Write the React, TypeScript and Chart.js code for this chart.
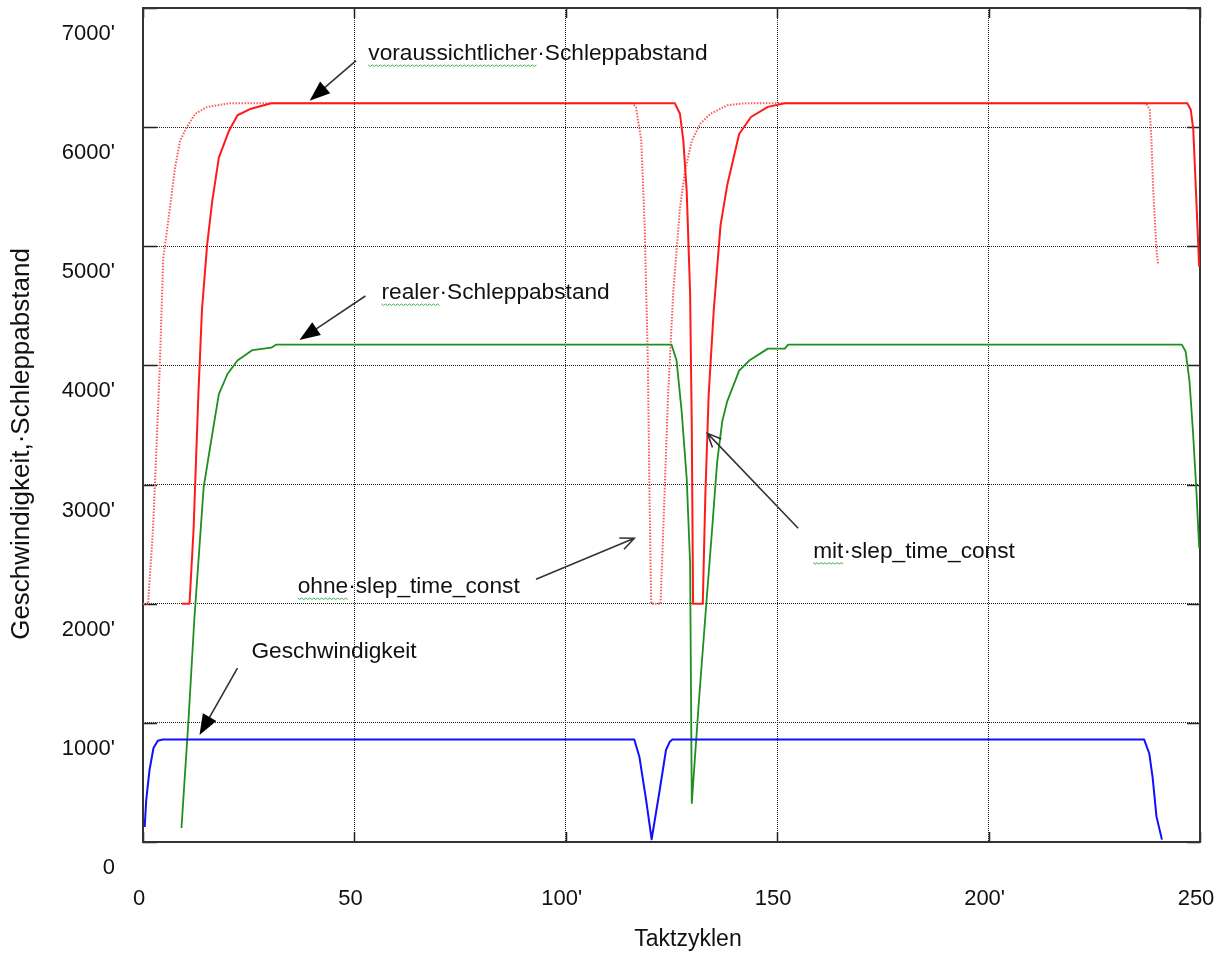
import React, { useEffect, useRef } from "react";
import { Chart, registerables } from "chart.js";

Chart.register(...registerables);

const FONT = "'Liberation Sans', Arial, Helvetica, sans-serif";

// Geschwindigkeit (blue)
const speedX = [0.4, 0.76, 1.54, 2.48, 3.5, 4.68, 116.2, 117.4, 119.0, 120.3, 122.1, 123.7, 124.6, 125.2, 236.8, 238.0, 238.8, 239.7, 241.0];
const speedY = [126, 352, 604, 789, 850, 860, 860, 716, 352, 23, 411, 772, 842, 860, 860, 743, 540, 215, 20];

// voraussichtlicher Schleppabstand, mit slep_time_const (red solid)
const mitX = [9.17, 11.0, 11.96, 13.1, 13.95, 15.15, 16.36, 17.94, 20.35, 22.34, 25.55, 30.33, 125.8, 127.0, 127.8, 128.6, 129.4, 129.8, 130.1, 132.4, 133.0, 133.8, 135.0, 136.6, 138.2, 141.0, 143.8, 147.8, 151.8, 247.0, 247.8, 248.4, 249.0, 249.8];
const mitY = [2000, 2000, 2623, 3760, 4467, 5006, 5375, 5744, 5970, 6100, 6155, 6200, 6200, 6112, 5886, 5460, 4609, 3475, 2000, 2000, 2906, 3760, 4467, 5178, 5517, 5942, 6085, 6170, 6200, 6200, 6149, 5986, 5498, 4828];

// voraussichtlicher Schleppabstand, ohne slep_time_const (red dotted)
const ohneX = [0, 1.2, 2.36, 2.77, 3.97, 4.78, 6.36, 7.57, 8.77, 10.35, 12.36, 15.15, 20.35, 115.8, 116.6, 117.85, 118.65, 119.4, 119.8, 120.2, 122.4, 123.05, 124.2, 125.4, 127.0, 128.2, 129.8, 131.8, 134.2, 138.2, 142.2, 237.2, 238.1, 238.5, 238.9, 239.7, 240.1];
const ohneY = [2000, 2000, 2623, 2963, 3987, 4893, 5321, 5657, 5886, 6000, 6112, 6169, 6200, 6200, 6168, 5886, 5178, 4045, 2906, 2000, 2000, 2623, 3760, 4608, 5321, 5632, 5886, 6028, 6112, 6184, 6200, 6200, 6149, 5905, 5498, 4970, 4849];

// realer Schleppabstand (green)
const realX = [9.1, 10.76, 12.13, 14.35, 15.96, 17.94, 19.98, 22.34, 25.9, 30.33, 31.56, 125.0, 126.2, 127.4, 128.6, 129.4, 129.8, 131.5, 133.3, 134.6, 135.8, 137.0, 138.2, 141.0, 143.4, 147.8, 151.8, 152.6, 245.7, 246.6, 247.5, 248.3, 249.1, 249.8];
const realY = [118, 1024, 1863, 2979, 3332, 3760, 3928, 4041, 4129, 4149, 4175, 4175, 4041, 3617, 3048, 2341, 327, 1192, 2031, 2623, 3190, 3531, 3701, 3956, 4041, 4141, 4141, 4175, 4175, 4117, 3872, 3466, 2979, 2471];

const xTickValues = [0, 50, 100, 150, 200, 250];
const xTickLabels = ["0", "50", "100'", "150", "200'", "250"];
const yTickValues = [0, 1000, 2000, 3000, 4000, 5000, 6000, 7000];
const yTickLabels = ["0", "1000'", "2000'", "3000'", "4000'", "5000'", "6000'", "7000'"];

const xAxisTitle = "Taktzyklen";
const yAxisTitle = "Geschwindigkeit,·Schleppabstand";

// annotations (data units): text anchor, arrow start/end, head style, spell-check underlined word
const annotations = [
  { text: "voraussichtlicher·Schleppabstand", wavy: "voraussichtlicher", tx: 53.3, ty: 6614, x1: 50.4, y1: 6558, x2: 39.4, y2: 6222, filled: true },
  { text: "realer·Schleppabstand", wavy: "realer", tx: 56.4, ty: 4608, x1: 52.6, y1: 4583, x2: 37.0, y2: 4213, filled: true },
  { text: "Geschwindigkeit", wavy: "", tx: 25.65, ty: 1595, x1: 22.34, y1: 1460, x2: 13.36, y2: 898, filled: true },
  { text: "ohne·slep_time_const", wavy: "ohne", tx: 36.6, ty: 2140, x1: 92.95, y1: 2205, x2: 116.2, y2: 2549, filled: false },
  { text: "mit·slep_time_const", wavy: "mit", tx: 158.5, ty: 2437, x1: 154.96, y1: 2633, x2: 133.5, y2: 3430, filled: false },
];

const toPts = (xs: number[], ys: number[]) => xs.map((x, i) => ({ x, y: ys[i] }));

function drawArrow(ctx: CanvasRenderingContext2D, x1: number, y1: number, x2: number, y2: number, filled: boolean) {
  const ang = Math.atan2(y2 - y1, x2 - x1);
  ctx.save();
  ctx.strokeStyle = "#333";
  ctx.fillStyle = "#000";
  ctx.lineWidth = 1.6;
  ctx.setLineDash([]);
  if (filled) {
    const len = 22;
    const w = 0.36;
    const bx = x2 - (len - 4) * Math.cos(ang);
    const by = y2 - (len - 4) * Math.sin(ang);
    ctx.beginPath();
    ctx.moveTo(x1, y1);
    ctx.lineTo(bx, by);
    ctx.stroke();
    ctx.beginPath();
    ctx.moveTo(x2, y2);
    ctx.lineTo(x2 - len * Math.cos(ang - w), y2 - len * Math.sin(ang - w));
    ctx.lineTo(x2 - len * Math.cos(ang + w), y2 - len * Math.sin(ang + w));
    ctx.closePath();
    ctx.fill();
  } else {
    const len = 15;
    const w = 0.42;
    ctx.beginPath();
    ctx.moveTo(x1, y1);
    ctx.lineTo(x2, y2);
    ctx.moveTo(x2 - len * Math.cos(ang - w), y2 - len * Math.sin(ang - w));
    ctx.lineTo(x2, y2);
    ctx.lineTo(x2 - len * Math.cos(ang + w), y2 - len * Math.sin(ang + w));
    ctx.stroke();
  }
  ctx.restore();
}

const framePlugin = {
  id: "framePlugin",
  beforeDatasetsDraw(chart: any) {
    const { ctx, chartArea: a, scales } = chart;
    ctx.save();
    ctx.setLineDash([]);
    ctx.strokeStyle = "#222";
    ctx.lineWidth = 1.5;
    ctx.beginPath();
    yTickValues.forEach((v) => {
      const y = Math.round(scales.y.getPixelForValue(v)) + 0.5;
      ctx.moveTo(a.left, y);
      ctx.lineTo(a.left + 14, y);
      ctx.moveTo(a.right - 13, y);
      ctx.lineTo(a.right, y);
    });
    xTickValues.forEach((v) => {
      const x = Math.round(scales.x.getPixelForValue(v)) + 0.5;
      ctx.moveTo(x, a.bottom);
      ctx.lineTo(x, a.bottom - 10);
      ctx.moveTo(x, a.top);
      ctx.lineTo(x, a.top + 10);
    });
    ctx.stroke();
    ctx.strokeStyle = "#333";
    ctx.lineWidth = 2;
    ctx.strokeRect(a.left, a.top, a.right - a.left, a.bottom - a.top);
    ctx.restore();
  },
  afterDraw(chart: any) {
    const { ctx, scales } = chart;
    const sx = scales.x;
    const sy = scales.y;
    ctx.save();
    // axis titles
    ctx.fillStyle = "#111";
    ctx.font = `26px ${FONT}`;
    ctx.textAlign = "center";
    ctx.textBaseline = "middle";
    ctx.save();
    ctx.translate(22, 444);
    ctx.rotate(-Math.PI / 2);
    ctx.fillText(yAxisTitle, 0, 0);
    ctx.restore();
    ctx.font = `23px ${FONT}`;
    ctx.fillText(xAxisTitle, 688, 940);

    // annotations
    annotations.forEach((an) => {
      const tx = sx.getPixelForValue(an.tx);
      const ty = sy.getPixelForValue(an.ty);
      ctx.font = `22.7px ${FONT}`;
      ctx.textAlign = "left";
      ctx.textBaseline = "middle";
      ctx.fillStyle = "#111";
      ctx.fillText(an.text, tx, ty);
      if (an.wavy) {
        const w = ctx.measureText(an.wavy).width;
        const yb = ty + 11;
        ctx.strokeStyle = "#3cb043";
        ctx.lineWidth = 1;
        ctx.beginPath();
        for (let i = 0; i <= w; i += 2) {
          const yy = yb + ((i / 2) % 2 === 0 ? 0 : 1.5);
          if (i === 0) ctx.moveTo(tx + i, yy);
          else ctx.lineTo(tx + i, yy);
        }
        ctx.stroke();
      }
      drawArrow(
        ctx,
        sx.getPixelForValue(an.x1),
        sy.getPixelForValue(an.y1),
        sx.getPixelForValue(an.x2),
        sy.getPixelForValue(an.y2),
        an.filled
      );
    });
    ctx.restore();
  },
};

export default function App() {
  const ref = useRef<HTMLCanvasElement>(null);
  useEffect(() => {
    if (!ref.current) return;
    const chart = new Chart(ref.current, {
      type: "line",
      data: {
        datasets: [
          {
            label: "Geschwindigkeit",
            data: toPts(speedX, speedY),
            borderColor: "#1010ff",
            borderWidth: 2,
            pointRadius: 0,
            tension: 0,
            order: 1,
          },
          {
            label: "realer Schleppabstand",
            data: toPts(realX, realY),
            borderColor: "#1f8f1f",
            borderWidth: 1.8,
            pointRadius: 0,
            tension: 0,
            order: 2,
          },
          {
            label: "mit slep_time_const",
            data: toPts(mitX, mitY),
            borderColor: "#ff1a1a",
            borderWidth: 2,
            pointRadius: 0,
            tension: 0,
            order: 3,
          },
          {
            label: "ohne slep_time_const",
            data: toPts(ohneX, ohneY),
            borderColor: "#ff5a5a",
            borderWidth: 2,
            borderDash: [1.5, 1.5],
            pointRadius: 0,
            tension: 0,
            order: 4,
          },
        ],
      },
      options: {
        animation: false,
        responsive: false,
        devicePixelRatio: 1,
        parsing: false as any,
        layout: { padding: { top: 8, right: 21, left: 0, bottom: 0 } },
        plugins: { legend: { display: false }, tooltip: { enabled: false } },
        elements: { line: { borderJoinStyle: "round", borderCapStyle: "butt" } },
        scales: {
          x: {
            type: "linear",
            min: 0,
            max: 250,
            grid: { color: "#222", lineWidth: 1, drawTicks: false },
            border: { display: false, dash: [1, 1] },
            afterFit: (s: any) => {
              s.height = 116;
              s.paddingLeft = 0;
              s.paddingRight = 0;
            },
            afterBuildTicks: (s: any) => {
              s.ticks = xTickValues.map((v) => ({ value: v }));
            },
            ticks: {
              autoSkip: false,
              maxRotation: 0,
              padding: 44,
              labelOffset: -4,
              color: "#111",
              font: { family: FONT, size: 22 },
              callback: (v: any) => {
                const i = xTickValues.indexOf(Number(v));
                return i >= 0 ? xTickLabels[i] : "";
              },
            },
          },
          y: {
            type: "linear",
            min: 0,
            max: 7000,
            grid: { color: "#222", lineWidth: 1, drawTicks: false },
            border: { display: false, dash: [1, 1] },
            afterFit: (s: any) => {
              s.width = 143;
              s.paddingTop = 0;
              s.paddingBottom = 0;
            },
            afterBuildTicks: (s: any) => {
              s.ticks = yTickValues.map((v) => ({ value: v }));
            },
            ticks: {
              autoSkip: false,
              padding: 28,
              labelOffset: 26,
              color: "#111",
              font: { family: FONT, size: 22 },
              callback: (v: any) => {
                const i = yTickValues.indexOf(Number(v));
                return i >= 0 ? yTickLabels[i] : "";
              },
            },
          },
        },
      },
      plugins: [framePlugin],
    });
    return () => chart.destroy();
  }, []);
  return (
    <div style={{ position: "absolute", left: 0, top: 0, width: 1221, height: 958, background: "#fff" }}>
      <canvas ref={ref} width={1221} height={958} style={{ display: "block" }} />
    </div>
  );
}
